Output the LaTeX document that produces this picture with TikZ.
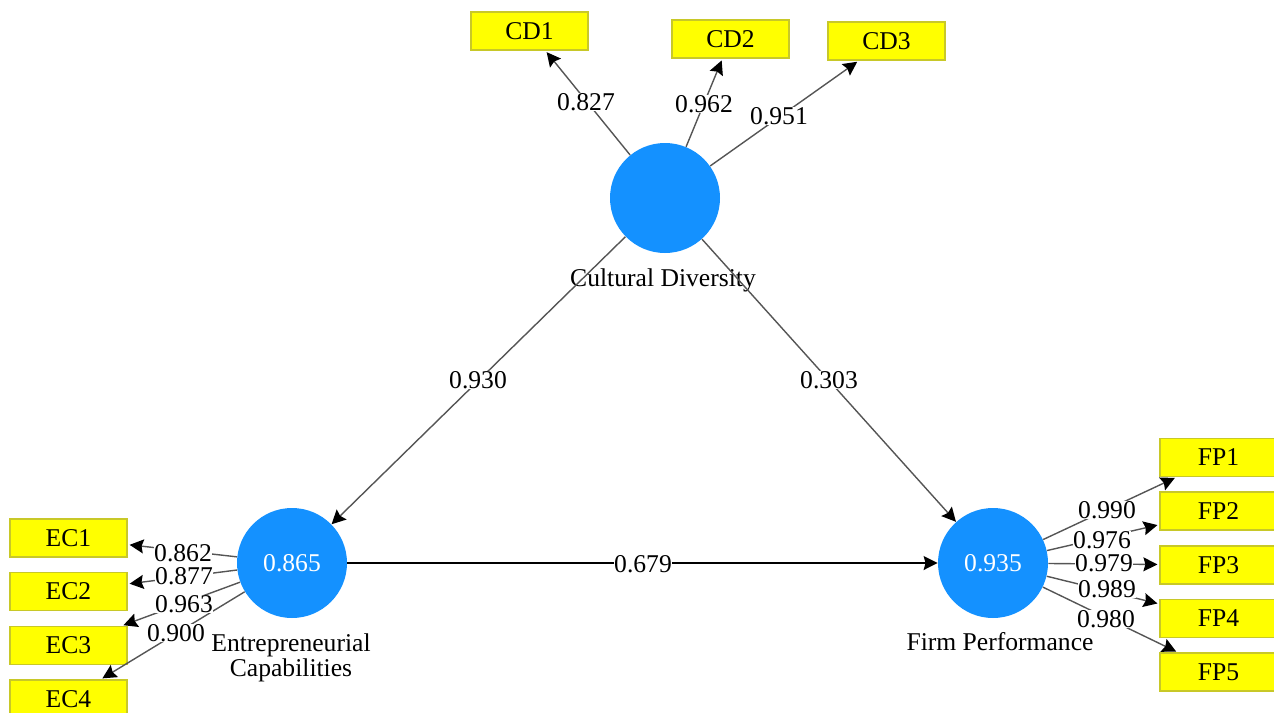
\documentclass[tikz,border=0pt]{standalone}
\usepackage{fontspec}
\setmainfont{Liberation Serif}
\usetikzlibrary{arrows.meta}
\definecolor{lvblue}{RGB}{20,145,255}
\definecolor{boxyellow}{RGB}{255,255,0}
\definecolor{boxedge}{RGB}{200,200,40}
\definecolor{linegray}{RGB}{85,85,85}
\begin{document}
\begin{tikzpicture}[x=0.5pt,y=-0.5pt,
  every node/.style={font=\fontsize{12.8}{11.5}\selectfont},
  latent/.style={circle,fill=lvblue,minimum size=55pt,inner sep=0pt,text=white},
  indicator/.style={rectangle,fill=boxyellow,draw=boxedge,line width=0.6pt,minimum width=58.5pt,minimum height=19pt,inner sep=0pt},
  link/.style={draw=linegray,line width=0.7pt,-{Stealth[length=7pt,width=7pt,inset=1pt,black]},shorten >=1pt},
  structlink/.style={draw=linegray,line width=0.7pt,-{Stealth[length=7pt,width=7pt,inset=1pt,black]}},
  coef/.style={fill=white,inner sep=0.3pt}]
\useasboundingbox (0,0) rectangle (1274,712);

% latent variables
\node[latent] (cd) at (665,198) {};
\node[latent] (ec) at (292,563) {0.865};
\node[latent] (fp) at (993,563) {0.935};

% indicators
\node[indicator] (cd1) at (529.5,31) {CD1};
\node[indicator] (cd2) at (730.5,39) {CD2};
\node[indicator] (cd3) at (886.5,41) {CD3};
\node[indicator] (ec1) at (68.5,538) {EC1};
\node[indicator] (ec2) at (68.5,591.5) {EC2};
\node[indicator] (ec3) at (68.5,645.5) {EC3};
\node[indicator] (ec4) at (68.5,699) {EC4};
\node[indicator] (fp1) at (1218.5,457.5) {FP1};
\node[indicator] (fp2) at (1218.5,511) {FP2};
\node[indicator] (fp3) at (1218.5,565) {FP3};
\node[indicator] (fp4) at (1218.5,618.5) {FP4};
\node[indicator] (fp5) at (1218.5,672) {FP5};

% names
\node (cdlab) at (663,280) {Cultural Diversity};
\node[align=center] (eclab) at (291,658) {Entrepreneurial\\Capabilities};
\node (fplab) at (1000,642) {Firm Performance};

% structural paths
\draw[structlink] (cd) -- (ec);
\draw[structlink] (cd) -- (fp);
\draw[structlink,draw=black] (ec) -- (fp);

% outer loadings
\draw[link] (cd) -- (cd1);
\draw[link] (cd) -- (cd2);
\draw[link] (cd) -- (cd3);
\draw[link] (ec) -- (ec1);
\draw[link] (ec) -- (ec2);
\draw[link] (ec) -- (ec3);
\draw[link] (ec) -- (ec4);
\draw[link] (fp) -- (fp1);
\draw[link] (fp) -- (fp2);
\draw[link] (fp) -- (fp3);
\draw[link] (fp) -- (fp4);
\draw[link] (fp) -- (fp5);

% coefficients
\node[coef] (k1) at (478,380) {0.930};
\node[coef] (k2) at (829,380) {0.303};
\node[coef] (k3) at (643,564) {0.679};

\node[coef] (l1) at (586,102) {0.827};
\node[coef] (l2) at (704,104) {0.962};
\node[coef] (l3) at (779,116) {0.951};

\node[coef] (l4) at (183,553) {0.862};
\node[coef] (l5) at (184,576) {0.877};
\node[coef] (l6) at (184,604) {0.963};
\node[coef] (l7) at (176,633) {0.900};

\node[coef] (l8) at (1107,510) {0.990};
\node[coef] (l9) at (1102,540) {0.976};
\node[coef] (l10) at (1104,563) {0.979};
\node[coef] (l11) at (1107,589) {0.989};
\node[coef] (l12) at (1106,619) {0.980};
\end{tikzpicture}
\end{document}
